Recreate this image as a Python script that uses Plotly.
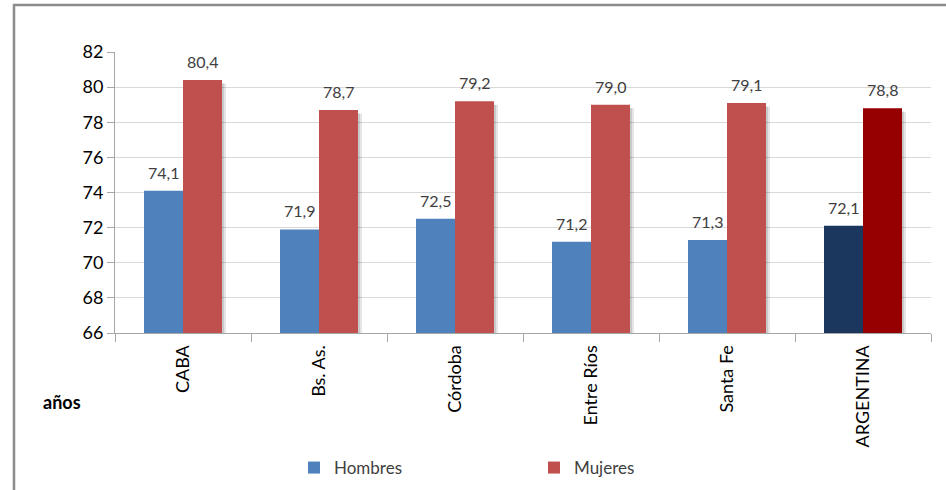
import plotly.graph_objects as go

categories = ["CABA", "Bs. As.", "Córdoba", "Entre Ríos", "Santa Fe", "ARGENTINA"]
hombres = [74.1, 71.9, 72.5, 71.2, 71.3, 72.1]
mujeres = [80.4, 78.7, 79.2, 79.0, 79.1, 78.8]
y_ticks = [66, 68, 70, 72, 74, 76, 78, 80, 82]

col_h = ["#4f81bd"] * 5 + ["#1b375e"]
col_m = ["#c0504d"] * 5 + ["#960000"]

W, H = 946, 490
L, R, T, B = 115, 15, 52, 157
pw, ph = W - L - R, H - T - B
cat_px = pw / len(categories)
bw = 39 / cat_px  # bar width in category units
sh = 4 / cat_px   # shadow offset

fig = go.Figure()
# soft shadows
for k, a in ((sh, 0.10), (sh * 0.5, 0.12)):
    fig.add_bar(x=categories, y=[v - 66 - 0.08 for v in mujeres], base=66 - 0.12, width=bw,
                offset=k, marker=dict(color=f"rgba(0,0,0,{a})", line=dict(width=0)),
                showlegend=False, hoverinfo="skip")
fig.add_bar(x=categories, y=hombres, name="Hombres", width=bw, offset=-bw,
            marker=dict(color=col_h, line=dict(width=0)))
fig.add_bar(x=categories, y=mujeres, name="Mujeres", width=bw, offset=0,
            marker=dict(color=col_m, line=dict(width=0)))

for i, c in enumerate(categories):
    for val, xs in ((hombres[i], -39 / 2), (mujeres[i], 39 / 2)):
        fig.add_annotation(x=c, y=val, text=f"{val:.1f}".replace(".", ","), showarrow=False,
                           xshift=xs, yshift=7, yanchor="bottom",
                           font=dict(size=16, color="#404040", family="Lato"))

fig.add_annotation(xref="paper", yref="paper", x=(41 - L) / pw, y=(T + ph - 402) / ph,
                   xanchor="left", yanchor="middle", text="<b>años</b>", showarrow=False,
                   font=dict(size=18, color="#000", family="Lato"))

fig.add_shape(type="rect", xref="paper", yref="paper",
              x0=(14 - L) / pw, x1=(W + 20 - L) / pw,
              y0=(T + ph - (H + 20)) / ph, y1=1 + (T - 5) / ph,
              line=dict(color="#8c8c8c", width=2.5), layer="above")

fig.update_layout(
    width=W, height=H, margin=dict(l=L, r=R, t=T, b=B, autoexpand=False),
    paper_bgcolor="white", plot_bgcolor="white",
    barmode="overlay",
    font=dict(family="Lato", size=16, color="#000"),
    legend=dict(orientation="h", x=(294 - L) / pw, xanchor="left", y=(T + ph - 468) / ph,
                yanchor="middle", entrywidth=195, font=dict(size=17, color="#404040"),
                itemwidth=30),
    xaxis=dict(type="category", tickangle=-90, ticks="outside", tickson="boundaries",
               ticklen=8, tickcolor="#a6a6a6", showline=True, linecolor="#a6a6a6",
               linewidth=1, showgrid=False, automargin=False, ticklabelstandoff=4,
               tickfont=dict(size=18, color="#000")),
    yaxis=dict(range=[66, 82], tickvals=y_ticks, ticks="outside", ticklen=7,
               tickcolor="#a6a6a6", showline=True, linecolor="#a6a6a6", linewidth=1,
               showgrid=True, gridcolor="#d9d9d9", zeroline=False, automargin=False,
               tickfont=dict(size=18, color="#000")),
)
fig.write_html("out.html")
